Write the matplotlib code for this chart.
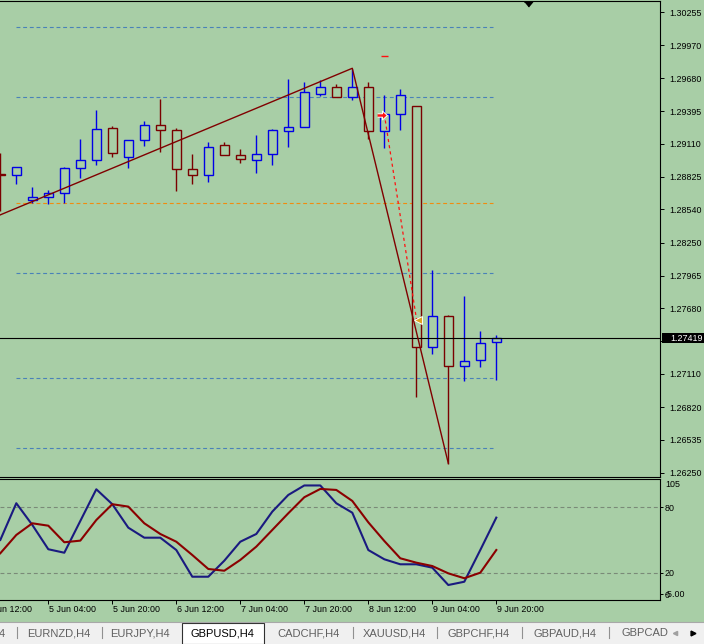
import matplotlib
matplotlib.use('Agg')
import matplotlib.pyplot as plt
import matplotlib.transforms as mtransforms
from matplotlib.patches import Rectangle
from matplotlib.lines import Line2D

plt.rcParams['font.family'] = ['Liberation Sans', 'DejaVu Sans']
plt.rcParams['axes.linewidth'] = 0.8

# GBPUSD H4 bars, 4 Jun 16:00 -> 9 Jun 20:00
opens = [1.28845, 1.28837, 1.28620, 1.28646, 1.28681, 1.28898, 1.28968, 1.29246,
         1.28994, 1.29142, 1.29272, 1.29229, 1.28889, 1.28837, 1.29098, 1.29011,
         1.28968, 1.29020, 1.29220, 1.29255, 1.29542, 1.29603, 1.29516, 1.29603,
         1.29220, 1.29368, 1.29437, 1.27341, 1.27611, 1.27176, 1.27228, 1.27384]
highs = [1.29028, 1.28907, 1.28735, 1.28709, 1.28909, 1.29153, 1.29405, 1.29266,
         1.29142, 1.29309, 1.29501, 1.29246, 1.29022, 1.29124, 1.29124, 1.29063,
         1.29188, 1.29237, 1.29672, 1.29646, 1.29663, 1.29629, 1.29759, 1.29646,
         1.29533, 1.29585, 1.29437, 1.28013, 1.27619, 1.27785, 1.27483, 1.27445]
lows = [1.28529, 1.28764, 1.28594, 1.28585, 1.28596, 1.28816, 1.28929, 1.28999,
        1.28903, 1.29095, 1.29042, 1.28703, 1.28764, 1.28781, 1.29011, 1.28947,
        1.28860, 1.28929, 1.29086, 1.29255, 1.29524, 1.29516, 1.29490, 1.29150,
        1.29072, 1.29229, 1.26911, 1.27280, 1.26323, 1.27045, 1.27167, 1.27054]
closes = [1.28840, 1.28907, 1.28646, 1.28681, 1.28898, 1.28968, 1.29237, 1.29034,
          1.29142, 1.29272, 1.29229, 1.28889, 1.28837, 1.29081, 1.29011, 1.28976,
          1.29020, 1.29229, 1.29255, 1.29559, 1.29603, 1.29516, 1.29603, 1.29220,
          1.29368, 1.29533, 1.27341, 1.27611, 1.27176, 1.27219, 1.27376, 1.27419]

# stochastic oscillator
stoch_main = [50, 83.7, 63.8, 41.5, 38.3, 67.4, 96.5, 82.8, 61.3, 52.1, 52.1, 40.8,
              16.3, 16.3, 31, 48.4, 55.5, 76, 91.3, 100, 100, 83.7, 75, 40.8,
              32.3, 27.7, 27.7, 24.6, 8.7, 11.7, 40.8, 70.5]
stoch_signal = [37.8, 54.6, 65.3, 63.1, 47.9, 49.4, 68.3, 82.8, 80.6, 65.3, 55.5, 48.4,
                36.2, 23.4, 21.8, 31.7, 43.9, 59.2, 74.5, 89.2, 96.8, 95.9, 85.8, 66.2,
                49.1, 33.2, 29.2, 26.1, 19.4, 14.9, 20, 40.8]

# 1.27395 sits under the current price box, so its label is left blank
price_ticks = [1.30255, 1.29970, 1.29680, 1.29395, 1.29110, 1.28825, 1.28540, 1.28250,
               1.27965, 1.27680, 1.27395, 1.27110, 1.26820, 1.26535, 1.26250]
blue_levels = [1.30125, 1.29516, 1.27985, 1.27071, 1.26462]
orange_levels = [1.28594]

# trend lines (bar index, price)
trend_x = [0, 22, 28]
trend_y = [1.28493, 1.29768, 1.26332]
signal_x = [24, 26.02]
signal_y = [1.29368, 1.27578]
sl_mark = 1.29872
shift_bar = 33

date_ticks = [-1, 3, 7, 11, 15, 19, 23, 27, 31]
date_labels = ['4 Jun 12:00', '5 Jun 04:00', '5 Jun 20:00', '6 Jun 12:00', '7 Jun 04:00',
               '7 Jun 20:00', '8 Jun 12:00', '9 Jun 04:00', '9 Jun 20:00']

tab_names = [',H4', 'EURNZD,H4', 'EURJPY,H4', 'GBPUSD,H4', 'CADCHF,H4', 'XAUUSD,H4',
             'GBPCHF,H4', 'GBPAUD,H4', 'GBPCAD']

bg = '#a8cea6'
bull = '#0000e6'
bear = '#7a0000'

W, H = 704, 644
fig = plt.figure(figsize=(W / 100, H / 100), dpi=100)
fig.patch.set_facecolor(bg)


def fx(px):
    return px / W


def fy(py):
    return 1 - py / H


ax = fig.add_axes([0, fy(476.5), fx(660), (476.5 - 1) / H])
ax2 = fig.add_axes([0, fy(600), fx(660), (600 - 478.7) / H])
for a in (ax, ax2):
    a.set_facecolor(bg)
    a.spines['left'].set_visible(False)
    a.set_xlim(-0.3 / 16, 659.7 / 16)

n = len(opens)
bars = list(range(n))

# candles
for i in bars:
    o, h, l, c = opens[i], highs[i], lows[i], closes[i]
    col = bull if c >= o else bear
    ax.vlines(i, l, h, color=col, lw=1.0, zorder=2)
    ax.bar(i, max(abs(c - o), 0.00004), bottom=min(o, c), width=0.56,
           facecolor=bg, edgecolor=col, lw=1.0, zorder=3)

# horizontal levels
for lv in blue_levels:
    ax.hlines(lv, 0.98, 30.8, color='#4a82b8', lw=0.8, linestyles=(0, (3.5, 2.5)), zorder=1)
for lv in orange_levels:
    ax.hlines(lv, 0.98, 30.8, color='#f08c10', lw=0.8, linestyles=(0, (3.5, 2.5)), zorder=1)

ax.axhline(closes[-1], color='black', lw=0.8, zorder=4)

# trend lines and trade markers
ax.plot(trend_x, trend_y, color='#800000', lw=1.0, zorder=5)
ax.plot(signal_x, signal_y, color='#ff1010', lw=0.9, ls=(0, (2.5, 2.5)), zorder=5)
ax.hlines(sl_mark, 23.78, 24.22, color='#ff1010', lw=1.0, zorder=5)
arrow = [(-1, -0.35), (0, -0.35), (0, -0.9), (1, 0), (0, 0.9), (0, 0.35), (-1, 0.35)]
ax.plot([signal_x[0] - 0.14], [signal_y[0] - 0.00006], marker=arrow, ms=7, color='#ff1010',
        mec='white', mew=0.7, zorder=6)
ax.plot([signal_x[1] + 0.08], [signal_y[1]], marker='<', ms=5.5, color='#e0a020',
        mec='white', mew=0.7, zorder=6)

# chart shift marker
shift_tr = mtransforms.blended_transform_factory(ax.transData, ax.transAxes)
tri = [(-1, 0.6), (1, 0.6), (0, -0.6)]
ax.plot([shift_bar], [1 - 2.5 / 475.5], marker=tri, ms=6, color='black', transform=shift_tr,
        clip_on=False, zorder=6)

ax.set_ylim(1.26217, 1.303533)
ax.set_xticks([])
ax.yaxis.tick_right()
ax.set_yticks(price_ticks)
ax.set_yticklabels(['' if p == 1.27395 else f'{p:.5f}' for p in price_ticks])
ax.tick_params(axis='y', length=3, width=0.7, pad=3.8, labelsize=6.4, direction='out')

# current price box
yb = mtransforms.blended_transform_factory(ax.transAxes, ax.transData)
pp = (1.303533 - 1.26217) / 475.5
ax.add_patch(Rectangle((1 + 2 / 660, closes[-1] - 5 * pp), 44 / 660, 10 * pp,
                       transform=yb, facecolor='black', clip_on=False, zorder=7))
ax.text(1 + 10 / 660, closes[-1], f'{closes[-1]:.5f}', transform=yb, color='white',
        fontsize=6.4, ha='left', va='center', zorder=8)

# stochastic window
ax2.plot(bars, stoch_main, color='#1a1a80', lw=1.5, zorder=3)
ax2.plot(bars, stoch_signal, color='#8b0000', lw=1.5, zorder=3)
for lv in (80, 20):
    ax2.axhline(lv, color='#7a8a78', lw=0.8, ls=(0, (3.5, 2.5)), zorder=1)
ax2.set_ylim(-5.05, 106.2)
ax2.yaxis.tick_right()
ax2.set_yticks([0, 20, 80])
ax2.set_yticklabels(['0', '20', '80'])
ax2.tick_params(axis='y', length=2.2, width=0.7, pad=1.4, labelsize=6.4, direction='out')
yb2 = mtransforms.blended_transform_factory(ax2.transAxes, ax2.transData)
ax2.text(1 + 5 / 660, 0, '-5.00', transform=yb2, fontsize=6.4, ha='left', va='center')
ax2.text(1 + 5 / 660, 1 - 6.3 / 121.3, '105', transform=ax2.transAxes, fontsize=6.4,
         ha='left', va='center')

# time axis
ax2.set_xticks([t for t in date_ticks if t >= 0])
ax2.set_xticklabels([])
ax2.tick_params(axis='x', length=3, width=0.7, direction='out')
for t, lab in zip(date_ticks, date_labels):
    ax2.annotate(lab, xy=(t, 0), xycoords=('data', 'axes fraction'), xytext=(0.4, -6.7),
                 textcoords='offset points', ha='left', va='center', fontsize=6.4,
                 annotation_clip=False)

# tab bar
fig.add_artist(Rectangle((0, 0), 1, (644 - 621.5) / H, transform=fig.transFigure,
                         facecolor='#f0f0f0', edgecolor='none'))
fig.add_artist(Line2D([0, 1], [fy(621.5)] * 2, transform=fig.transFigure, color='#a8a8a8', lw=0.8))
fig.add_artist(Rectangle((fx(181.7), 0), fx(264.3 - 181.7), (644 - 622.7) / H,
                         transform=fig.transFigure, facecolor='white', edgecolor='#303030', lw=0.8))
for sx in [17.3, 101.7, 353.3, 437.3, 521.7, 609.3]:
    fig.add_artist(Line2D([fx(sx)] * 2, [fy(626.7), fy(638.3)], transform=fig.transFigure,
                          color='#909090', lw=0.8))
tab_x = [5.5, 58.5, 140.3, 222.8, 308.2, 394.2, 478.3, 564.7, 621.7]
tab_ha = ['right'] + ['center'] * 7 + ['left']
for name, tx, ha in zip(tab_names, tab_x, tab_ha):
    col = 'black' if name == 'GBPUSD,H4' else '#606060'
    fig.text(fx(tx), fy(633), name, ha=ha, va='center', fontsize=8, color=col)
fig.add_artist(Line2D([fx(675)], [fy(632.5)], transform=fig.transFigure, marker='<', ms=3,
                      color='#a0a0a0', ls='none'))
fig.add_artist(Line2D([fx(693)], [fy(632.5)], transform=fig.transFigure, marker='>', ms=3.5,
                      color='black', ls='none'))

plt.savefig('out.png', dpi=100, facecolor=fig.get_facecolor())
